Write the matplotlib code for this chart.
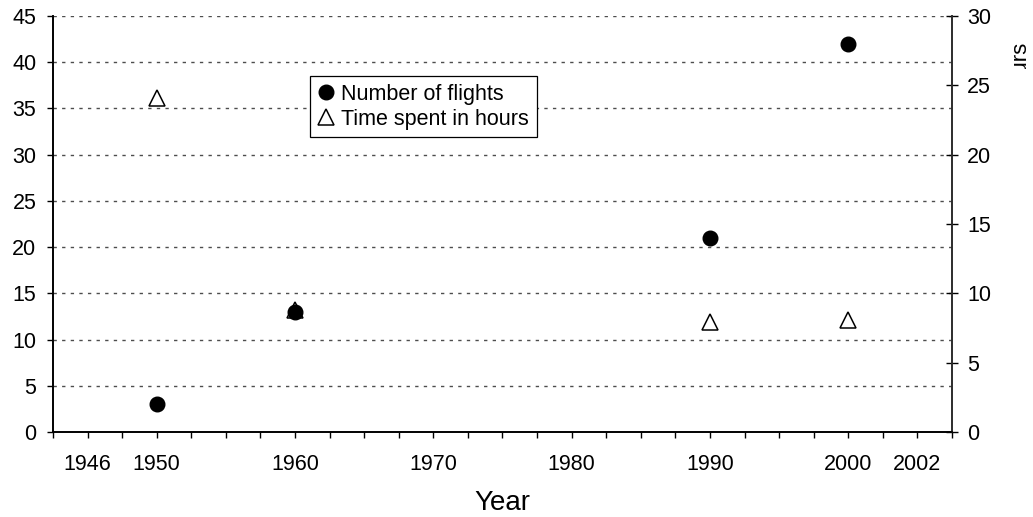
import matplotlib.pyplot as plt
from matplotlib.ticker import MultipleLocator
from matplotlib.patches import Rectangle

# Data
years = [1950, 1960, 1990, 2000]
flights = [3, 13, 21, 42]
hours = [24.1, 8.8, 7.9, 8.1]
xtick_pos = [1945, 1950, 1960, 1970, 1980, 1990, 2000, 2005]
xtick_labels = ["1946", "1950", "1960", "1970", "1980", "1990", "2000", "2002"]
left_ticks = list(range(0, 50, 5))
right_ticks = list(range(0, 35, 5))

plt.rcParams["font.family"] = ["Liberation Sans", "DejaVu Sans"]
plt.rcParams["lines.scale_dashes"] = False
fs = 15.5

W, H = 1033, 517
fig = plt.figure(figsize=(W / 100, H / 100), dpi=100)
fig.subplots_adjust(left=53 / W, right=952 / W, bottom=1 - 432 / H, top=1 - 16 / H)
ax = fig.add_subplot(111)
ax2 = ax.twinx()

# Number of flights (left axis)
l1, = ax.plot(years, flights, linestyle="none", marker="o", ms=10.5, color="black",
              label="Number of flights", zorder=5)
# Time spent in hours (right axis)
l2, = ax2.plot(years, hours, linestyle="none", marker="^", ms=11, mew=1.1, color="black",
               fillstyle="none", label="Time spent in hours", zorder=4)

# Left axis
ax.set_xlim(1942.5, 2007.5)
ax.set_ylim(0, 45)
ax.set_yticks(left_ticks)
ax.set_xticks(xtick_pos)
ax.set_xticklabels(xtick_labels)
ax.xaxis.set_minor_locator(MultipleLocator(2.5))
ax.tick_params(axis="x", which="both", direction="out", length=4, width=1, pad=12, labelsize=fs)
ax.tick_params(axis="y", direction="out", length=4, width=1, pad=8, labelsize=fs)
for y in left_ticks[1:]:
    ax.axhline(y, color="#4d4d4d", lw=1, linestyle=(0, (2.4, 3.8)), zorder=1)

# Right axis
ax2.set_ylim(0, 30)
ax2.set_yticks(right_ticks)
ax2.tick_params(axis="y", direction="inout", length=8, width=1, pad=7, labelsize=fs)

for a in (ax, ax2):
    a.spines["top"].set_visible(False)
    a.spines["left"].set_linewidth(1.2)
    a.spines["bottom"].set_linewidth(1.2)
    a.spines["right"].set_linewidth(1.2)
ax2.spines["right"].set_color("#333333")

ax.set_xlabel("Year", fontsize=20, labelpad=11)

# Right axis title, only the end of it shows in the original
t = fig.text(1025 / W, 1 - 41 / H, "Hours", rotation=90, rotation_mode="anchor",
             ha="right", va="baseline", fontsize=16)
clip = Rectangle((0.9, 1 - 69 / H), 0.1, 69 / H, transform=fig.transFigure)
t.set_clip_path(clip)

# Legend
leg = fig.legend(handles=[l1, l2], loc="upper left", bbox_to_anchor=(310 / W, 1 - 76 / H),
                 fontsize=fs, frameon=True, fancybox=False, edgecolor="black", framealpha=1,
                 borderpad=0.35, labelspacing=0.2, handlelength=0.8, handletextpad=0.3,
                 borderaxespad=0)
leg.get_frame().set_linewidth(0.9)

plt.savefig("out.png", dpi=100)
plt.close()
